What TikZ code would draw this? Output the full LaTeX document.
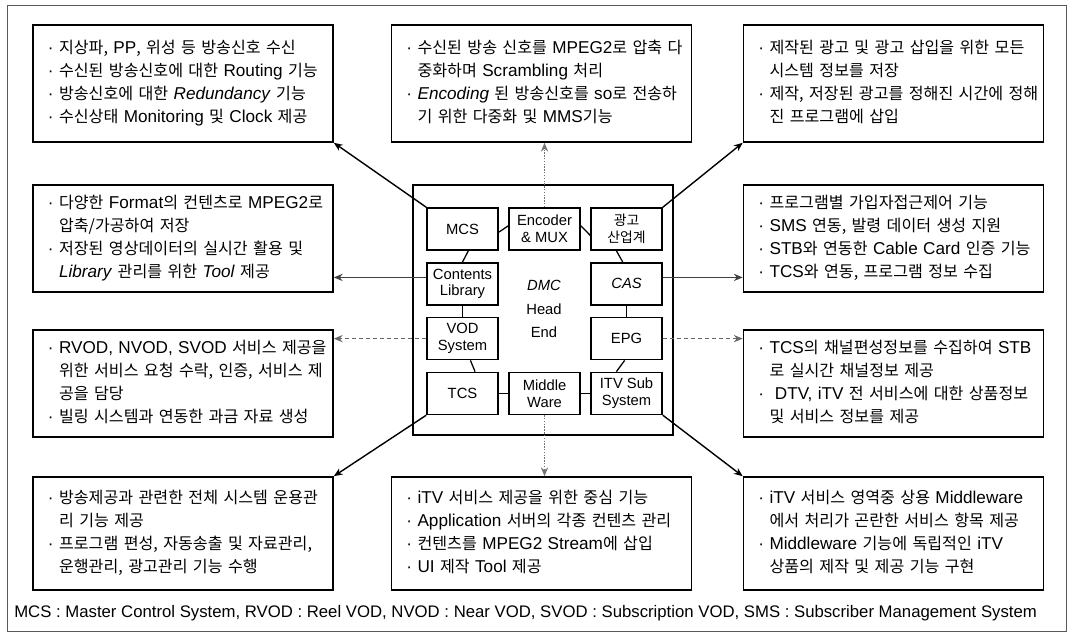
\documentclass[tikz,border=0pt]{standalone}
\usepackage{fontspec}
\setmainfont{Noto Sans CJK KR}[Scale=0.94]
\newfontfamily\lafont{Liberation Sans}
\usetikzlibrary{positioning}
\usetikzlibrary{arrows.meta}

\newcommand{\en}[1]{{\lafont #1}}
\newcommand{\bu}{{\lafont ·\ }}
\newcommand{\cn}{\phantom{\bu}}
\newcommand{\lines}[1]{\begin{tabular}{@{}l@{}}#1\end{tabular}}

\begin{document}
\begin{tikzpicture}[x=0.025cm, y=-0.025cm, on grid, node distance=1.37cm and 2.05cm,
    desc/.style={draw, line width=1.1pt, text width=6.75cm, inner xsep=0.375cm,
                 inner ysep=0pt, align=left, font=\fontsize{12.2}{16.4}\selectfont},
    unit/.style={draw, line width=1.1pt, fill=white, minimum width=1.775cm,
                 minimum height=1.05cm, inner sep=1pt, align=center,
                 font=\fontsize{10.5}{12}\selectfont\lafont},
    link/.style={line width=0.9pt},
    feed/.style={line width=1pt, -{Stealth[length=2.2mm, width=1.8mm, open]}},
    hfeed/.style={feed, black!75},
    dfeed/.style={feed, black!60, densely dashed},
    vfeed/.style={feed, black!55, densely dotted}]

  \useasboundingbox (0,0) rectangle (1072,637);
  \draw[black!65, line width=0.6pt] (7,5) rectangle (1066,631);

  % description boxes
  \node[desc, minimum height=2.925cm] (tl) at (183,83.5) {\lines{%
    \bu 지상파, \en{PP}, 위성 등 방송신호 수신\\
    \bu 수신된 방송신호에 대한 \en{Routing} 기능\\
    \bu 방송신호에 대한 \en{\textit{Redundancy}} 기능\\
    \bu 수신상태 \en{Monitoring} 및 \en{Clock} 제공}};
  \node[desc, minimum height=2.925cm] (tc) at (541.5,83.5) {\lines{%
    \bu 수신된 방송 신호를 \en{MPEG2}로 압축 다\\
    \cn 중화하며 \en{Scrambling} 처리\\
    \bu \en{\textit{Encoding}} 된 방송신호를 \en{so}로 전송하\\
    \cn 기 위한 다중화 및 \en{MMS}기능}};
  \node[desc, minimum height=2.925cm] (tr) at (893.5,83.5) {\lines{%
    \bu 제작된 광고 및 광고 삽입을 위한 모든\\
    \cn 시스템 정보를 저장\\
    \bu 제작, 저장된 광고를 정해진 시간에 정해\\
    \cn 진 프로그램에 삽입}};
  \node[desc, minimum height=2.675cm] (ml1) at (183,238.5) {\lines{%
    \bu 다양한 \en{Format}의 컨텐츠로 \en{MPEG2}로\\
    \cn 압축/가공하여 저장\\
    \bu 저장된 영상데이터의 실시간 활용 및\\
    \cn \en{\textit{Library}} 관리를 위한 \en{\textit{Tool}} 제공}};
  \node[desc, minimum height=2.675cm] (mr1) at (893.5,238.5) {\lines{%
    \bu 프로그램별 가입자접근제어 기능\\
    \bu \en{SMS} 연동, 발령 데이터 생성 지원\\
    \bu \en{STB}와 연동한 \en{Cable Card} 인증 기능\\
    \bu \en{TCS}와 연동, 프로그램 정보 수집}};
  \node[desc, minimum height=2.675cm] (ml2) at (183,383.5) {\lines{%
    \bu \en{RVOD, NVOD, SVOD} 서비스 제공을\\
    \cn 위한 서비스 요청 수락, 인증, 서비스 제\\
    \cn 공을 담당\\
    \bu 빌링 시스템과 연동한 과금 자료 생성}};
  \node[desc, minimum height=2.675cm] (mr2) at (893.5,383.5) {\lines{%
    \bu \en{TCS}의 채널편성정보를 수집하여 \en{STB}\\
    \cn 로 실시간 채널정보 제공\\
    \bu \en{\ DTV, iTV} 전 서비스에 대한 상품정보\\
    \cn 및 서비스 정보를 제공}};
  \node[desc, minimum height=2.825cm] (bl) at (183,533.5) {\lines{%
    \bu 방송제공과 관련한 전체 시스템 운용관\\
    \cn 리 기능 제공\\
    \bu 프로그램 편성, 자동송출 및 자료관리,\\
    \cn 운행관리, 광고관리 기능 수행}};
  \node[desc, minimum height=2.825cm] (bc) at (541.5,533.5) {\lines{%
    \bu \en{iTV} 서비스 제공을 위한 중심 기능\\
    \bu \en{Application} 서버의 각종 컨텐츠 관리\\
    \bu 컨텐츠를 \en{MPEG2 Stream}에 삽입\\
    \bu \en{UI} 제작 \en{Tool} 제공}};
  \node[desc, minimum height=2.825cm] (br) at (893.5,533.5) {\lines{%
    \bu \en{iTV} 서비스 영역중 상용 \en{Middleware}\\
    \cn 에서 처리가 곤란한 서비스 항목 제공\\
    \bu \en{Middleware} 기능에 독립적인 \en{iTV}\\
    \cn 상품의 제작 및 제공 기능 구현}};

  % head end
  \node[draw, line width=1.1pt, minimum width=6.5cm, minimum height=6.25cm] (he) at (543,310) {};
  \node[align=center, font=\fontsize{10.5}{17}\selectfont\lafont] (dmc) at (544,309) {\textit{DMC}\\Head\\End};

  \node[unit] (mcs) at (462.5,229) {MCS};
  \node[unit, right=of mcs] (enc) {Encoder\\\& MUX};
  \node[unit, right=of enc, font=\fontsize{10.5}{12}\selectfont] (ad) {광고\\산업계};
  \node[unit, below=of mcs] (lib) {Contents\\Library};
  \node[unit, below=of lib] (vod) {VOD\\System};
  \node[unit, below=of vod] (tcs) {TCS};
  \node[unit, right=of tcs] (mw)  {Middle\\Ware};
  \node[unit, right=of mw]  (itv) {ITV Sub\\System};
  \node[unit, below=of ad, font=\fontsize{10.5}{12}\selectfont\lafont] (cas) {\textit{CAS}};
  \node[unit, below=of cas] (epg) {EPG};

  \draw[link] (mcs.-5) -- (enc.175);
  \draw[link] (enc.5) -- (ad.-170);
  \draw[link] (mcs.-75) -- (lib.north);
  \draw[link] (lib) -- (vod);
  \draw[link] (vod.-70) -- (tcs.60);
  \draw[link] (tcs) -- (mw);
  \draw[link] (mw) -- (itv);
  \draw[link] (ad.-115) -- (cas.100);
  \draw[link] (cas) -- (epg);
  \draw[link] (epg.-95) -- (itv.115);

  \draw[feed]  (mcs.north west) -- (tl.south east);
  \draw[vfeed] (enc.north) -- (enc.north |- tc.south);
  \draw[feed]  (ad.north east) -- (tr.south west);
  \draw[hfeed] (lib.170) -- (lib.170 -| ml1.east);
  \draw[dfeed] (vod.west) -- (vod.west -| ml2.east);
  \draw[hfeed] (cas.10) -- (cas.10 -| mr1.west);
  \draw[dfeed] (epg.east) -- (epg.east -| mr2.west);
  \draw[feed]  (tcs.south west) -- (bl.north east);
  \draw[vfeed] (mw.south) -- (mw.south |- bc.north);
  \draw[feed]  (itv.south east) -- (br.north west);

  \node[anchor=west, inner sep=0pt, font=\fontsize{11.9}{13}\selectfont\lafont] (note) at (14,613)
    {MCS : Master Control System, RVOD : Reel VOD, NVOD : Near VOD, SVOD : Subscription VOD, SMS : Subscriber Management System};

\end{tikzpicture}
\end{document}
